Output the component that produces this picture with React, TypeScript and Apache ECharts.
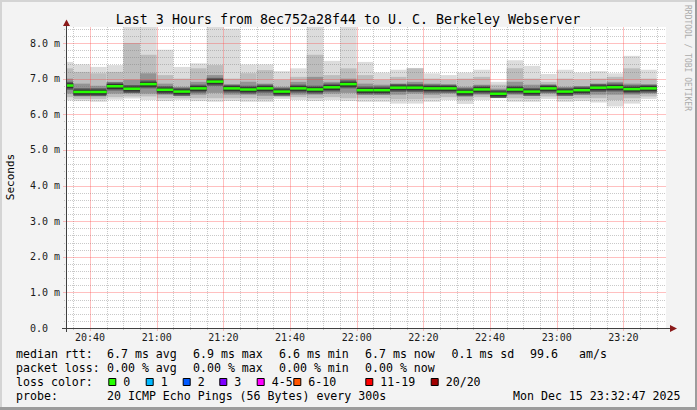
import React, { useEffect, useRef } from "react";
import * as echarts from "echarts";

// ---- data ----
const barStart = [
  "20:30", "20:35", "20:40", "20:45", "20:50", "20:55", "21:00", "21:05", "21:10", "21:15",
  "21:20", "21:25", "21:30", "21:35", "21:40", "21:45", "21:50", "21:55", "22:00", "22:05",
  "22:10", "22:15", "22:20", "22:25", "22:30", "22:35", "22:40", "22:45", "22:50", "22:55",
  "23:00", "23:05", "23:10", "23:15", "23:20", "23:25",
];
// RTT in ms
const rttMax = [7.47, 7.40, 7.33, 7.38, 8.60, 8.60, 7.81, 7.33, 7.43, 8.60, 8.40, 7.40, 7.40, 7.21, 7.29, 8.60, 7.50, 8.60, 7.47, 7.17, 7.25, 7.30, 7.15, 7.10, 7.17, 7.25, 6.91, 7.52, 7.36, 7.13, 7.25, 7.17, 7.21, 7.15, 7.64, 7.25];
const rttHi2 = [7.29, 7.19, 7.15, 7.19, 8.00, 7.67, 7.10, 7.00, 7.29, 7.38, 7.00, 7.15, 7.24, 6.97, 7.05, 7.67, 7.10, 7.29, 7.10, 6.97, 7.05, 7.29, 7.00, 6.97, 7.00, 7.05, 6.83, 7.29, 7.00, 6.91, 7.00, 6.97, 7.00, 7.05, 7.29, 7.00];
const rttHi3 = [7.00, 6.86, 6.80, 6.91, 6.97, 7.15, 6.86, 6.77, 6.91, 7.10, 6.83, 6.91, 6.86, 6.77, 6.91, 7.05, 6.91, 7.00, 6.86, 6.83, 6.86, 6.91, 6.86, 6.83, 6.77, 6.83, 6.72, 6.91, 6.83, 6.80, 6.77, 6.77, 6.86, 6.91, 6.86, 6.83];
const rttMedian = [6.80, 6.62, 6.62, 6.78, 6.71, 6.84, 6.68, 6.63, 6.72, 6.91, 6.72, 6.69, 6.72, 6.63, 6.72, 6.69, 6.75, 6.84, 6.67, 6.67, 6.74, 6.74, 6.72, 6.72, 6.62, 6.69, 6.57, 6.69, 6.63, 6.72, 6.63, 6.67, 6.74, 6.75, 6.70, 6.72];
const rttLo3 = [6.58, 6.52, 6.52, 6.58, 6.58, 6.58, 6.55, 6.52, 6.55, 6.60, 6.55, 6.55, 6.52, 6.55, 6.55, 6.55, 6.58, 6.60, 6.55, 6.55, 6.55, 6.58, 6.55, 6.58, 6.50, 6.55, 6.52, 6.55, 6.52, 6.58, 6.52, 6.55, 6.55, 6.55, 6.55, 6.58];
const rttLo2 = [6.48, 6.43, 6.43, 6.48, 6.50, 6.50, 6.45, 6.45, 6.45, 6.45, 6.45, 6.45, 6.42, 6.48, 6.48, 6.45, 6.48, 6.45, 6.45, 6.45, 6.42, 6.42, 6.45, 6.48, 6.40, 6.48, 6.48, 6.45, 6.43, 6.50, 6.43, 6.45, 6.45, 6.40, 6.45, 6.50];
const rttMin = [6.39, 6.37, 6.35, 6.41, 6.44, 6.40, 6.37, 6.40, 6.37, 6.35, 6.37, 6.35, 6.35, 6.43, 6.40, 6.37, 6.40, 6.37, 6.35, 6.35, 6.30, 6.30, 6.35, 6.40, 6.29, 6.40, 6.45, 6.35, 6.35, 6.43, 6.35, 6.37, 6.33, 6.22, 6.30, 6.43];

const xTickLabels = ["20:40", "21:00", "21:20", "21:40", "22:00", "22:20", "22:40", "23:00", "23:20"];
const yTickLabels = ["0.0", "1.0 m", "2.0 m", "3.0 m", "4.0 m", "5.0 m", "6.0 m", "7.0 m", "8.0 m"];
const yTickValues = [0, 1, 2, 3, 4, 5, 6, 7, 8];

const titleText = "Last 3 Hours from 8ec752a28f44 to U. C. Berkeley Webserver";
const legendRtt = ["median rtt:", "6.7 ms avg", "6.9 ms max", "6.6 ms min", "6.7 ms now", "0.1 ms sd", "99.6", "am/s"];
const legendLoss = ["packet loss:", "0.00 % avg", "0.00 % max", "0.00 % min", "0.00 % now"];
const lossLabels = ["0", "1", "2", "3", "4-5", "6-10", "11-19", "20/20"];
const lossColors = ["#26ff00", "#00b8ff", "#0059ff", "#7e00ff", "#ff00ff", "#ff5500", "#ff0000", "#a10000"];
const probeText = "20 ICMP Echo Pings (56 Bytes) every 300s";
const dateText = "Mon Dec 15 23:32:47 2025";

// ---- helpers ----
const toMin = (s: string) => {
  const [h, m] = s.split(":").map(Number);
  return (h - 20) * 60 + m;
};
const X_MIN = toMin("20:32") + 47 / 60;
const X_MAX = X_MIN + 180;
const STEP = 5;
const Y_MAX = 8.45;
const MONO = "'DejaVu Sans Mono', monospace";

const xTickValues = xTickLabels.map(toMin);

export default function App() {
  const ref = useRef<HTMLDivElement>(null);

  useEffect(() => {
    document.body.style.margin = "0";
    if (!ref.current) return;
    const chart = echarts.init(ref.current, undefined, { renderer: "svg" });

    const smokeData = barStart.map((s, i) => [
      toMin(s), rttMin[i], rttLo2[i], rttLo3[i], rttMedian[i], rttHi3[i], rttHi2[i], rttMax[i],
    ]);

    const clipX = (cs: any, x: number) => Math.min(Math.max(x, cs.x), cs.x + cs.width);
    const clipY = (cs: any, y: number) => Math.min(Math.max(y, cs.y), cs.y + cs.height);

    const renderSmoke = (params: any, api: any) => {
      const cs = params.coordSys;
      const t0 = api.value(0);
      const xa = clipX(cs, api.coord([t0, 0])[0]);
      const xb = clipX(cs, api.coord([t0 + STEP, 0])[0]);
      const yOf = (v: number) => clipY(cs, api.coord([t0, v])[1]);
      const band = (lo: number, hi: number, fill: string) => {
        const y1 = yOf(hi);
        const y2 = yOf(lo);
        return { type: "rect", shape: { x: xa, y: y1, width: xb - xa, height: y2 - y1 }, style: { fill } };
      };
      const med = yOf(api.value(4));
      return {
        type: "group",
        children: [
          band(api.value(1), api.value(7), "#dcdcdc"),
          band(api.value(2), api.value(6), "#bdbdbd"),
          band(api.value(3), api.value(5), "#939393"),
          { type: "rect", shape: { x: xa, y: med - 4, width: xb - xa, height: 8 }, style: { fill: "#5e5e5e" } },
        ],
      };
    };

    const renderMedian = (params: any, api: any) => {
      const cs = params.coordSys;
      const t0 = api.value(0);
      const xa = clipX(cs, api.coord([t0, 0])[0]);
      const xb = clipX(cs, api.coord([t0 + STEP, 0])[0]);
      const y = api.coord([t0, api.value(4)])[1];
      return {
        type: "group",
        children: [
          { type: "rect", shape: { x: xa, y: y - 2.5, width: xb - xa, height: 5 }, style: { fill: "#333" } },
          { type: "rect", shape: { x: xa, y: y - 1.5, width: xb - xa, height: 2.5 }, style: { fill: lossColors[0] } },
        ],
      };
    };

    const gridStyle = (major: boolean) =>
      major
        ? { stroke: "rgba(255,60,60,0.32)", lineWidth: 1 }
        : { stroke: "rgba(120,120,120,0.4)", lineWidth: 1, lineDash: [1, 1] };

    const renderGrid = (params: any, api: any) => {
      const cs = params.coordSys;
      const minor: any[] = [];
      const major: any[] = [];
      // horizontal
      for (let k = 1; k * 0.2 < Y_MAX; k++) {
        const isMajor = k % 5 === 0;
        const y = Math.round(api.coord([X_MIN, k * 0.2])[1]) + 0.5;
        (isMajor ? major : minor).push({
          type: "line",
          shape: { x1: cs.x - (isMajor ? 3 : 2), y1: y, x2: cs.x + cs.width, y2: y },
          style: gridStyle(isMajor),
        });
      }
      // vertical
      for (let m = Math.ceil(X_MIN / STEP) * STEP; m < X_MAX; m += STEP) {
        const isMajor = m % 20 === 0;
        const x = Math.round(api.coord([m, 0])[0]) + 0.5;
        (isMajor ? major : minor).push({
          type: "line",
          shape: { x1: x, y1: cs.y, x2: x, y2: cs.y + cs.height + (isMajor ? 3 : 2) },
          style: gridStyle(isMajor),
        });
      }
      return { type: "group", children: [...minor, ...major] };
    };

    const legendY = [354, 368, 382, 396];
    const txt = (text: string, x: number, y: number, extra: any = {}) => ({
      type: "text",
      x,
      y,
      z: 20,
      style: {
        text,
        fill: "#000",
        font: `11.6px ${MONO}`,
        textVerticalAlign: "middle",
        ...extra,
      },
    });

    const rttX = [16, 107, 193, 279, 365, 451.5, 530, 579];
    const lossX = [16, 107, 193, 279, 365];
    const boxX = [108.3, 145.7, 182.7, 219.3, 256.7, 293.3, 365.3, 430.7];

    const graphic: any[] = [
      // frame
      { type: "rect", z: 20, shape: { x: 0, y: 0, width: 697, height: 2 }, style: { fill: "#d4d4d4" } },
      { type: "rect", z: 20, shape: { x: 0, y: 0, width: 2, height: 410 }, style: { fill: "#d4d4d4" } },
      { type: "rect", z: 20, shape: { x: 0, y: 407, width: 697, height: 3 }, style: { fill: "#9c9c9c" } },
      { type: "rect", z: 20, shape: { x: 695, y: 0, width: 2, height: 410 }, style: { fill: "#9c9c9c" } },
      // title
      {
        type: "text", x: 348, y: 19, z: 20,
        style: { text: titleText, font: `13.3px ${MONO}`, fill: "#000", textAlign: "center", textVerticalAlign: "middle" },
      },
      // y name
      {
        type: "text", x: 10, y: 177, rotation: Math.PI / 2, z: 20,
        style: { text: "Seconds", font: `11px ${MONO}`, fill: "#000", textAlign: "center", textVerticalAlign: "middle" },
      },
      // watermark
      {
        type: "text", x: 687, y: 5, rotation: -Math.PI / 2, z: 20,
        style: { text: "RRDTOOL / TOBI OETIKER", font: `8px ${MONO}`, fill: "#ababab", textAlign: "left", textVerticalAlign: "middle" },
      },
      // axis lines
      { type: "line", z: 15, shape: { x1: 66.5, y1: 24, x2: 66.5, y2: 332 }, style: { stroke: "#404040", lineWidth: 1 } },
      { type: "line", z: 15, shape: { x1: 62, y1: 328.5, x2: 671, y2: 328.5 }, style: { stroke: "#404040", lineWidth: 1 } },
      { type: "polygon", z: 16, shape: { points: [[66.5, 19.5], [63, 26], [70, 26]] }, style: { fill: "#8b1a1a" } },
      { type: "polygon", z: 16, shape: { points: [[677, 328.5], [670, 325], [670, 332]] }, style: { fill: "#8b1a1a" } },
    ];

    legendRtt.forEach((t, i) => graphic.push(txt(t, rttX[i], legendY[0])));
    legendLoss.forEach((t, i) => graphic.push(txt(t, lossX[i], legendY[1])));
    graphic.push(txt("loss color:", 16, legendY[2]));
    lossLabels.forEach((t, i) => {
      graphic.push({
        type: "rect", z: 20,
        shape: { x: boxX[i] + 0.5, y: 378.5, width: 7, height: 7 },
        style: { fill: lossColors[i], stroke: "#000", lineWidth: 1 },
      });
      graphic.push(txt(t, boxX[i] + 15, legendY[2]));
    });
    graphic.push(txt("probe:", 16, legendY[3]));
    graphic.push(txt(probeText, 107, legendY[3]));
    graphic.push(txt(dateText, 513, legendY[3]));

    chart.setOption({
      animation: false,
      backgroundColor: "#f3f3f3",
      grid: { left: 66, right: 31, top: 27, bottom: 82, show: true, backgroundColor: "#ffffff", borderWidth: 0 },
      xAxis: {
        type: "value",
        min: X_MIN,
        max: X_MAX,
        axisLine: { show: false },
        axisTick: { show: false },
        splitLine: { show: false },
        axisLabel: {
          customValues: xTickValues,
          formatter: (v: number) => {
            const i = xTickValues.findIndex((t) => Math.abs(t - v) < 1e-6);
            return i >= 0 ? xTickLabels[i] : "";
          },
          margin: 4,
          fontFamily: MONO,
          fontSize: 10,
          color: "#1a1a1a",
        },
      },
      yAxis: {
        type: "value",
        min: 0,
        max: Y_MAX,
        axisLine: { show: false },
        axisTick: { show: false },
        splitLine: { show: false },
        axisLabel: {
          customValues: yTickValues,
          formatter: (v: number) => {
            const i = yTickValues.findIndex((t) => Math.abs(t - v) < 1e-6);
            return i >= 0 ? yTickLabels[i] : "";
          },
          align: "left",
          margin: 36,
          fontFamily: MONO,
          fontSize: 10,
          color: "#1a1a1a",
        },
      },
      series: [
        {
          type: "custom",
          name: "smoke",
          z: 2,
          renderItem: renderSmoke,
          encode: { x: 0, y: [1, 7] },
          data: smokeData,
        },
        {
          type: "custom",
          name: "grid",
          z: 3,
          renderItem: renderGrid,
          data: [[X_MIN, 0]],
          silent: true,
        },
        {
          type: "custom",
          name: "median rtt",
          z: 4,
          renderItem: renderMedian,
          encode: { x: 0, y: 4 },
          data: smokeData,
        },
      ],
      graphic,
    });

    return () => chart.dispose();
  }, []);

  return <div ref={ref} style={{ width: 697, height: 410 }} />;
}
